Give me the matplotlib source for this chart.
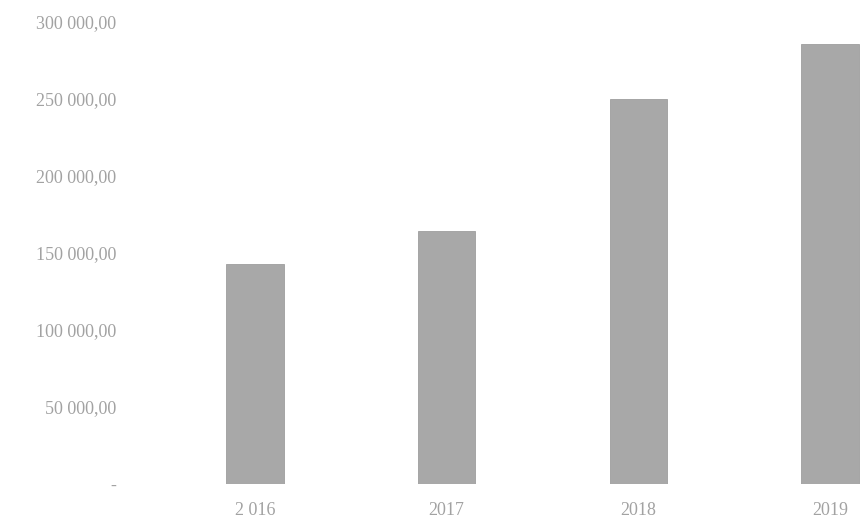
# -------------------------------------------------------------
# Stapeldiagram per år
# -------------------------------------------------------------
import matplotlib
matplotlib.use("Agg")
import matplotlib.pyplot as plt
from matplotlib.ticker import FuncFormatter

# Data
ar = ["2 016", "2017", "2018", "2019"]
belopp = [143000, 164000, 250000, 286000]
y_ticks = [0, 50000, 100000, 150000, 200000, 250000, 300000]


def formatera(v, pos):
    # Excel-liknande format: mellanslag som tusentalsavgränsare, komma som decimal
    if v == 0:
        return "-"
    s = f"{v:,.2f}"
    return s.replace(",", " ").replace(".", ",")


fig = plt.figure(figsize=(8.6, 5.24), dpi=100)
ax = fig.add_axes([130 / 860, 40 / 524, 730 / 860, 462 / 524])

x = range(len(ar))
ax.bar(x, belopp, width=0.3, color="#a8a8a8", edgecolor="#9e9e9e", linewidth=0.6)

ax.set_xlim(-0.652, 3.157)
ax.set_ylim(0, 300000)
ax.set_yticks(y_ticks)
ax.yaxis.set_major_formatter(FuncFormatter(formatera))
ax.set_xticks(list(x))
ax.set_xticklabels(ar)

for spine in ax.spines.values():
    spine.set_visible(False)
ax.tick_params(axis="both", length=0, colors="#a2a2a2", labelsize=13)
ax.tick_params(axis="y", pad=10)
ax.tick_params(axis="x", pad=13)
for lbl in ax.get_xticklabels() + ax.get_yticklabels():
    lbl.set_family("Liberation Serif")

fig.savefig("out.png", dpi=100)
